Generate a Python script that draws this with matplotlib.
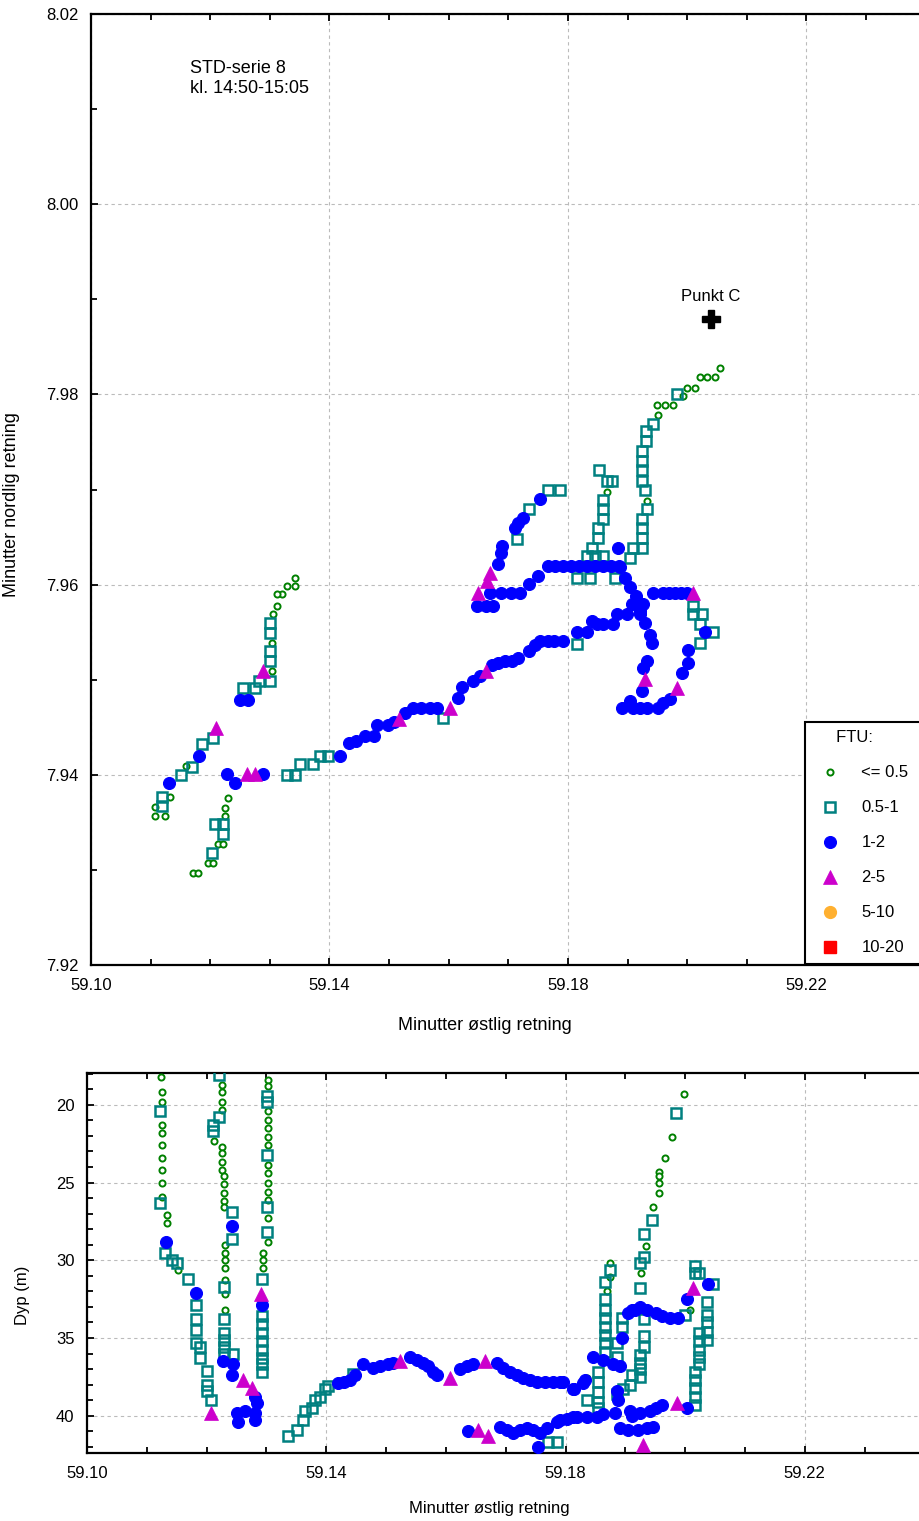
import matplotlib
matplotlib.use('Agg')
import matplotlib.pyplot as plt
from matplotlib.lines import Line2D
from matplotlib.ticker import MultipleLocator, FormatStrFormatter

plt.rcParams['font.family'] = ['Liberation Sans', 'DejaVu Sans']

# ---- kart: lengde / bredde (minutter) per FTU-klasse ----
map_g_lon = [59.1107, 59.1124, 59.1107, 59.1132, 59.1159,
             59.1304, 59.1304, 59.1305, 59.1312, 59.1320, 59.1312, 59.1329, 59.1342, 59.1342,
             59.1171, 59.1179, 59.1196, 59.1205, 59.1213, 59.1221, 59.1225, 59.1225, 59.1230,
             59.1865, 59.1932, 59.1951, 59.1949, 59.1963, 59.1976, 59.1993, 59.1999, 59.2013,
             59.2021, 59.2033, 59.2046, 59.2055]
map_g_lat = [7.9357, 7.9357, 7.9366, 7.9377, 7.9409,
             7.9509, 7.9539, 7.9569, 7.9578, 7.9590, 7.9590, 7.9599, 7.9599, 7.9607,
             7.9297, 7.9297, 7.9307, 7.9307, 7.9327, 7.9327, 7.9357, 7.9365, 7.9376,
             7.9697, 7.9688, 7.9778, 7.9789, 7.9789, 7.9789, 7.9798, 7.9807, 7.9807,
             7.9818, 7.9818, 7.9818, 7.9828]

map_s_lon = [59.1119, 59.1119, 59.1151, 59.1169, 59.1186, 59.1205,
             59.1255, 59.1275, 59.1282, 59.1300, 59.1300, 59.1300, 59.1300, 59.1300,
             59.1203, 59.1208, 59.1221, 59.1221,
             59.1329, 59.1342, 59.1350, 59.1372, 59.1384, 59.1397, 59.1591,
             59.1815, 59.1837, 59.1879, 59.1815, 59.1714, 59.1734, 59.1766, 59.1787,
             59.1832, 59.1845, 59.1859, 59.1840, 59.1850, 59.1850, 59.1859, 59.1859,
             59.1859, 59.1865, 59.1874, 59.1852,
             59.1904, 59.1909, 59.1924, 59.1924, 59.1924, 59.1924, 59.1932, 59.1929,
             59.1924, 59.1924, 59.1924, 59.1924, 59.1931, 59.1931, 59.1943, 59.1983,
             59.2010, 59.2010, 59.2025, 59.2021, 59.2043, 59.2021]
map_s_lat = [7.9367, 7.9377, 7.9400, 7.9408, 7.9432, 7.9439,
             7.9491, 7.9491, 7.9499, 7.9499, 7.9520, 7.9530, 7.9549, 7.9560,
             7.9318, 7.9348, 7.9348, 7.9338,
             7.9400, 7.9400, 7.9411, 7.9411, 7.9420, 7.9420, 7.9460,
             7.9607, 7.9607, 7.9607, 7.9538, 7.9648, 7.9680, 7.9699, 7.9699,
             7.9630, 7.9630, 7.9630, 7.9639, 7.9649, 7.9660, 7.9669, 7.9680,
             7.9689, 7.9709, 7.9709, 7.9720,
             7.9628, 7.9639, 7.9639, 7.9649, 7.9659, 7.9669, 7.9680, 7.9699,
             7.9709, 7.9720, 7.9730, 7.9741, 7.9751, 7.9762, 7.9769, 7.9800,
             7.9578, 7.9569, 7.9569, 7.9559, 7.9550, 7.9539]

map_b_lon = [59.1131, 59.1181, 59.1250, 59.1263, 59.1241, 59.1228, 59.1288,
             59.1418, 59.1432, 59.1445, 59.1460, 59.1474, 59.1480, 59.1499, 59.1509,
             59.1527, 59.1541, 59.1554, 59.1568, 59.1581, 59.1616, 59.1623, 59.1640,
             59.1653, 59.1673, 59.1683, 59.1695, 59.1707, 59.1717, 59.1734, 59.1744,
             59.1754, 59.1766, 59.1776, 59.1792, 59.1815, 59.1832, 59.1840, 59.1849,
             59.1859, 59.1875, 59.1882, 59.1899, 59.1921, 59.1907, 59.1926,
             59.1943, 59.1959, 59.1969, 59.1979, 59.1990, 59.2000, 59.2030, 59.2001,
             59.2001, 59.1991, 59.1971, 59.1959, 59.1951, 59.1932, 59.1921, 59.1909,
             59.1891, 59.1904, 59.1924, 59.1926, 59.1932, 59.1941, 59.1938, 59.1929,
             59.1921, 59.1914, 59.1904, 59.1896, 59.1887,
             59.1766, 59.1779, 59.1792, 59.1805, 59.1818, 59.1832, 59.1845, 59.1859,
             59.1872, 59.1886, 59.1884,
             59.1750, 59.1734, 59.1720, 59.1704, 59.1687, 59.1670, 59.1648, 59.1662,
             59.1675, 59.1682, 59.1687, 59.1690, 59.1712, 59.1717, 59.1724, 59.1754]
map_b_lat = [7.9391, 7.9420, 7.9479, 7.9479, 7.9391, 7.9401, 7.9401,
             7.9420, 7.9433, 7.9436, 7.9441, 7.9441, 7.9452, 7.9452, 7.9455,
             7.9465, 7.9470, 7.9470, 7.9470, 7.9470, 7.9481, 7.9492, 7.9499,
             7.9504, 7.9515, 7.9518, 7.9520, 7.9520, 7.9523, 7.9530, 7.9536,
             7.9541, 7.9541, 7.9541, 7.9541, 7.9550, 7.9550, 7.9562, 7.9559,
             7.9559, 7.9559, 7.9569, 7.9569, 7.9569, 7.9580, 7.9580,
             7.9591, 7.9591, 7.9591, 7.9591, 7.9591, 7.9591, 7.9550, 7.9531,
             7.9518, 7.9507, 7.9480, 7.9475, 7.9470, 7.9470, 7.9470, 7.9470,
             7.9470, 7.9478, 7.9488, 7.9512, 7.9520, 7.9539, 7.9547, 7.9560,
             7.9572, 7.9588, 7.9597, 7.9607, 7.9618,
             7.9620, 7.9620, 7.9620, 7.9620, 7.9620, 7.9620, 7.9620, 7.9620,
             7.9620, 7.9620, 7.9639,
             7.9609, 7.9601, 7.9591, 7.9591, 7.9591, 7.9591, 7.9578, 7.9578,
             7.9578, 7.9622, 7.9633, 7.9641, 7.9659, 7.9665, 7.9670, 7.9690]

map_m_lon = [59.1210, 59.1288, 59.1262, 59.1275, 59.1516, 59.1603, 59.1662,
             59.2010, 59.1983, 59.1929, 59.1650, 59.1665, 59.1670]
map_m_lat = [7.9449, 7.9509, 7.9401, 7.9401, 7.9459, 7.9470, 7.9509,
             7.9591, 7.9491, 7.9501, 7.9591, 7.9604, 7.9612]

punkt_c = (59.2040, 7.9879)

# ---- dybdeprofil: lengde / dyp (m) per FTU-klasse ----
dep_g_lon = [59.1124] + [59.1125] * 9 + [59.1134, 59.1134, 59.1152] \
    + [59.1226] * 4 + [59.1212] + [59.1226] * 4 + [59.1229] * 5 + [59.1231] * 7 \
    + [59.1302] * 14 + [59.1294] * 3 \
    + [59.1998, 59.1978, 59.1966, 59.1957, 59.1957, 59.1957, 59.1957, 59.1946,
       59.1934, 59.1926, 59.1874, 59.1874, 59.1869, 59.2008, 59.1836]
dep_g_dep = [18.2, 19.2, 19.8, 21.3, 21.8, 22.6, 23.4, 24.2, 25.0, 25.9, 27.1, 27.6, 30.6,
             18.7, 19.2, 19.8, 20.3, 22.3, 22.7, 23.1, 23.7, 24.2, 24.6, 25.1, 25.7, 26.2, 26.6,
             29.0, 29.5, 30.0, 30.5, 31.3, 32.2, 33.2,
             18.4, 18.8, 20.4, 21.0, 21.5, 22.1, 22.6, 23.9, 24.4, 25.0, 25.6, 26.1, 27.3, 28.8,
             29.5, 30.0, 30.5,
             19.3, 22.1, 23.4, 24.3, 24.6, 25.0, 25.7, 26.6, 29.1, 30.8, 30.2, 31.1, 32.0,
             33.2, 37.6]

dep_s_lon = [59.1122, 59.1122, 59.1130, 59.1142, 59.1150, 59.1169] + [59.1182] * 4 \
    + [59.1189] * 2 + [59.1201] * 3 + [59.1207] \
    + [59.1221] * 2 + [59.1211] * 2 + [59.1242] * 2 + [59.1229] * 6 + [59.1244] \
    + [59.1301] * 5 + [59.1292] * 9 \
    + [59.1336, 59.1351, 59.1361, 59.1364, 59.1376, 59.1381, 59.1389, 59.1398, 59.1403, 59.1444] \
    + [59.1770, 59.1785] \
    + [59.1984, 59.1944, 59.1932, 59.1932, 59.1924, 59.1924, 59.1999, 59.2016, 59.2016,
       59.2024, 59.2046] + [59.2036] * 5 + [59.2023] * 5 + [59.2016] * 5 \
    + [59.1874] + [59.1866] * 8 + [59.1854] * 5 + [59.1836] \
    + [59.1932] * 3 + [59.1924] * 4 + [59.1912, 59.1907, 59.1896, 59.1886] \
    + [59.1894, 59.1894, 59.1886, 59.1886]
dep_s_dep = [20.4, 26.3, 29.5, 30.0, 30.2, 31.2, 32.9, 33.8, 34.5, 35.3, 35.6, 36.3,
             37.1, 38.0, 38.4, 39.0,
             18.1, 20.8, 21.3, 21.7, 26.9, 28.6, 31.7, 33.8, 34.7, 35.1, 35.6, 36.0, 36.0,
             19.4, 19.8, 23.2, 26.6, 28.2, 31.2, 33.6, 34.1, 34.7, 35.2, 35.8, 36.3, 36.7, 37.2,
             41.3, 40.9, 40.3, 39.7, 39.5, 39.0, 38.8, 38.3, 38.1, 37.3,
             41.7, 41.7,
             20.5, 27.4, 28.3, 29.8, 30.2, 31.8, 33.5, 30.4, 30.8, 30.8, 31.5,
             32.7, 33.5, 34.0, 34.6, 35.1, 34.7, 35.2, 35.8, 36.2, 36.7,
             37.2, 37.7, 38.2, 38.8, 39.3,
             30.6, 31.4, 32.5, 33.2, 33.7, 34.3, 34.8, 35.3, 35.9,
             37.2, 37.8, 38.5, 39.1, 39.5, 39.0,
             33.8, 34.9, 35.6, 36.1, 36.6, 37.0, 37.5, 37.4, 38.0, 38.3, 38.6,
             33.7, 34.3, 35.3, 36.2]

dep_b_lon = [59.1132, 59.1182, 59.1242, 59.1227, 59.1244, 59.1242, 59.1281, 59.1284,
             59.1264, 59.1251, 59.1252, 59.1281, 59.1281, 59.1292,
             59.1419, 59.1430, 59.1439, 59.1448, 59.1461, 59.1478, 59.1490, 59.1503, 59.1511,
             59.1540, 59.1551, 59.1561, 59.1570, 59.1578, 59.1585, 59.1623, 59.1635, 59.1645,
             59.1685, 59.1695, 59.1707, 59.1719, 59.1729, 59.1740, 59.1752, 59.1765, 59.1779,
             59.1795, 59.1815, 59.1832, 59.1846,
             59.1637, 59.1690, 59.1702, 59.1712, 59.1724, 59.1735, 59.1745, 59.1757, 59.1769,
             59.1785, 59.1802, 59.1819, 59.1836, 59.1852, 59.1754,
             59.1911, 59.1924, 59.1936, 59.1952, 59.1962, 59.1974, 59.1988, 59.2003, 59.2038,
             59.2003, 59.1962, 59.1952, 59.1941, 59.1891, 59.1904, 59.1921, 59.1936, 59.1946,
             59.1912, 59.1924, 59.1907, 59.1790, 59.1812, 59.1862, 59.1882, 59.1790, 59.1812,
             59.1829, 59.1862, 59.1879, 59.1891, 59.1894, 59.1904, 59.1916, 59.1886, 59.1887]
dep_b_dep = [28.8, 32.1, 27.8, 36.5, 36.7, 37.4, 38.8, 39.2, 39.7, 39.8, 40.4, 39.8, 40.3, 32.9,
             37.9, 37.8, 37.7, 37.4, 36.7, 36.9, 36.8, 36.7, 36.6,
             36.2, 36.4, 36.6, 36.8, 37.2, 37.4, 37.0, 36.8, 36.7,
             36.6, 36.9, 37.2, 37.4, 37.6, 37.7, 37.8, 37.8, 37.8,
             37.8, 38.3, 37.7, 36.2,
             41.0, 40.7, 40.9, 41.1, 40.9, 40.8, 40.9, 41.1, 40.8,
             40.4, 40.2, 40.1, 40.1, 40.1, 42.0,
             33.2, 33.0, 33.2, 33.4, 33.6, 33.7, 33.7, 32.5, 31.5,
             39.5, 39.3, 39.5, 39.7, 40.8, 40.9, 40.9, 40.8, 40.7,
             40.0, 39.8, 39.7, 40.3, 40.1, 39.9, 39.8, 37.8, 38.3,
             37.9, 36.4, 36.7, 36.8, 35.0, 33.4, 33.2, 38.4, 39.0]

dep_m_lon = [59.1207, 59.1261, 59.1276, 59.1291, 59.1523, 59.1607, 59.1665, 59.1653,
             59.1670, 59.2013, 59.1986, 59.1929]
dep_m_dep = [39.8, 37.7, 38.2, 32.2, 36.5, 37.6, 36.5, 40.9, 41.3, 31.8, 39.2, 41.9]

x_ticks = [59.10, 59.14, 59.18, 59.22]
ftu_labels = ['<= 0.5', '0.5-1', '1-2', '2-5', '5-10', '10-20']

style_g = dict(ls='none', marker='o', ms=4.4, mfc='white', mec='#008000', mew=1.4)
style_s = dict(ls='none', marker='s', ms=7.0, mfc='none', mec='#008080', mew=1.8)
style_b = dict(ls='none', marker='o', ms=8.6, mfc='#0000ff', mec='#0000ff', mew=0.8)
style_m = dict(ls='none', marker='^', ms=10.5, mfc='#cc00cc', mec='#cc00cc', mew=0.5)
style_o = dict(ls='none', marker='o', ms=8.5, mfc='#ffb030', mec='#ffb030')
style_r = dict(ls='none', marker='s', ms=9, mfc='#ff0000', mec='#ff0000')


def style_axes(ax):
    for side in ['left', 'bottom', 'top']:
        ax.spines[side].set_linewidth(1.6)
    ax.spines['right'].set_visible(False)
    ax.tick_params(which='both', direction='in', top=True, right=False,
                   labelsize=12, width=1.3)
    ax.tick_params(which='major', length=5, pad=9)
    ax.tick_params(which='minor', length=4)
    ax.set_xticks(x_ticks)
    ax.xaxis.set_minor_locator(MultipleLocator(0.01))
    ax.xaxis.set_major_formatter(FormatStrFormatter('%.2f'))
    ax.grid(True, which='major', color='#bbbbbb', ls=(0, (3, 3)), lw=0.8)
    ax.set_axisbelow(True)


fig = plt.figure(figsize=(9.19, 15.21), dpi=100)

# ---------------- kart ----------------
ax1 = fig.add_axes([91 / 919, 556 / 1521, 828 / 919, 951 / 1521])
ax1.plot(map_g_lon, map_g_lat, zorder=3, **style_g)
ax1.plot(map_s_lon, map_s_lat, zorder=4, **style_s)
ax1.plot(map_b_lon, map_b_lat, zorder=5, **style_b)
ax1.plot(map_m_lon, map_m_lat, zorder=6, **style_m)
ax1.plot(punkt_c[0], punkt_c[1], ls='none', marker='P', ms=13, color='black', zorder=7)
ax1.annotate('Punkt C', punkt_c, xytext=(0, 11), textcoords='offset points',
             ha='center', va='bottom', fontsize=12)
ax1.text(0.12, 0.952, 'STD-serie 8\nkl. 14:50-15:05', transform=ax1.transAxes,
         fontsize=13, va='top', ha='left', linespacing=1.25)

style_axes(ax1)
ax1.set_xlim(59.10, 59.2389)
ax1.set_ylim(7.92, 8.02)
ax1.yaxis.set_major_locator(MultipleLocator(0.02))
ax1.yaxis.set_minor_locator(MultipleLocator(0.01))
ax1.yaxis.set_major_formatter(FormatStrFormatter('%.2f'))
ax1.set_xlabel('Minutter østlig retning', fontsize=13)
ax1.set_ylabel('Minutter nordlig retning', fontsize=13)
ax1.xaxis.set_label_coords(0.476, -0.055)
ax1.yaxis.set_label_coords(-0.086, 0.484)

handles = [Line2D([], [], **style_g), Line2D([], [], **style_s),
           Line2D([], [], **style_b), Line2D([], [], **style_m),
           Line2D([], [], **style_o), Line2D([], [], **style_r)]
leg = ax1.legend(handles, ftu_labels, title='     FTU:', loc='upper left',
                 bbox_to_anchor=(0.862, 0.007, 0.3, 0.2485), mode='expand',
                 borderaxespad=0, fancybox=False, framealpha=1, edgecolor='black',
                 fontsize=12, title_fontsize=12, labelspacing=1.2,
                 handletextpad=0.9, alignment='left', borderpad=0.5)
leg.get_frame().set_linewidth(1.5)
leg.set_zorder(10)

# ---------------- dybde ----------------
ax2 = fig.add_axes([87 / 919, 68 / 1521, 832 / 919, 380 / 1521])
ax2.plot(dep_g_lon, dep_g_dep, zorder=3, **style_g)
ax2.plot(dep_s_lon, dep_s_dep, zorder=4, **style_s)
ax2.plot(dep_b_lon, dep_b_dep, zorder=5, **style_b)
ax2.plot(dep_m_lon, dep_m_dep, zorder=6, **style_m)
style_axes(ax2)
ax2.set_xlim(59.10, 59.2391)
ax2.set_ylim(42.4, 17.95)
ax2.yaxis.set_major_locator(MultipleLocator(5))
ax2.yaxis.set_minor_locator(MultipleLocator(1))
ax2.set_xlabel('Minutter østlig retning', fontsize=12)
ax2.set_ylabel('Dyp (m)', fontsize=12)
ax2.xaxis.set_label_coords(0.484, -0.126)
ax2.yaxis.set_label_coords(-0.0685, 0.416)

fig.savefig('out.png', dpi=100)
